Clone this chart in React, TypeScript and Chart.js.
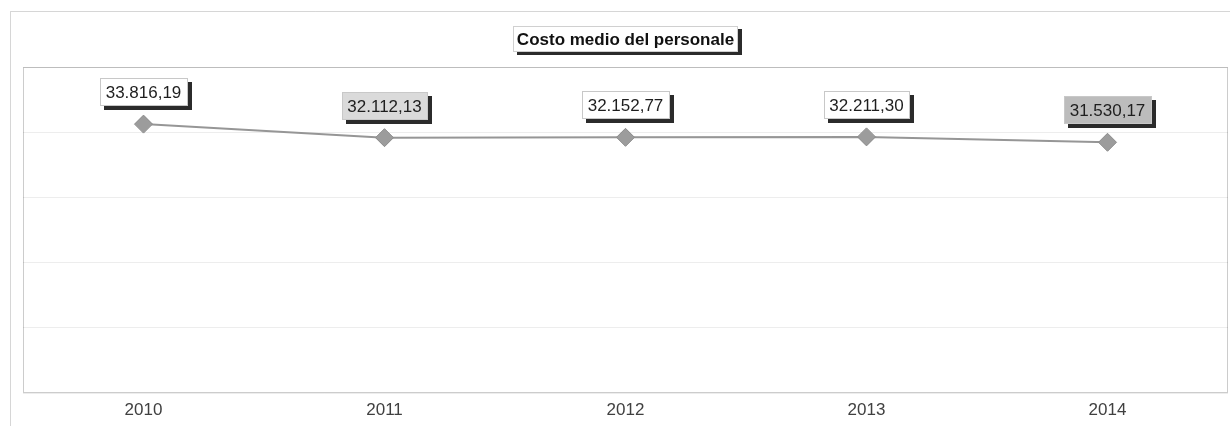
import React, { useEffect, useRef } from "react";
import { Chart, registerables } from "chart.js";

Chart.register(...registerables);

const categories = ["2010", "2011", "2012", "2013", "2014"];
const costoMedio = [33816.19, 32112.13, 32152.77, 32211.3, 31530.17];
const pointLabels = ["33.816,19", "32.112,13", "32.152,77", "32.211,30", "31.530,17"];
const titleText = "Costo medio del personale";
const yMin = 0;
const yMax = 41000;
const yStep = 8200;

const labelBackgrounds = ["#ffffff", "#dadada", "#ffffff", "#ffffff", "#bcbcbc"];
const FONT = '"Liberation Sans", Arial, Helvetica, sans-serif';

const decorPlugin = {
  id: "decor",
  beforeDraw(chart: any) {
    const ctx = chart.ctx as CanvasRenderingContext2D;
    const a = chart.chartArea;
    ctx.save();
    ctx.fillStyle = "#ffffff";
    ctx.fillRect(0, 0, chart.width, chart.height);
    // outer frame
    ctx.strokeStyle = "rgba(0,0,0,0.16)";
    ctx.lineWidth = 1;
    ctx.beginPath();
    ctx.moveTo(10.5, chart.height);
    ctx.lineTo(10.5, 11.5);
    ctx.lineTo(chart.width, 11.5);
    ctx.stroke();
    // plot frame
    ctx.strokeStyle = "rgba(0,0,0,0.2)";
    ctx.strokeRect(a.left + 0.5, a.top + 0.5, a.right - a.left - 1, a.bottom - a.top - 1);
    ctx.restore();
  },
  afterDatasetsDraw(chart: any) {
    const ctx = chart.ctx as CanvasRenderingContext2D;
    const a = chart.chartArea;
    ctx.save();
    // data labels
    ctx.font = `17px ${FONT}`;
    ctx.textAlign = "center";
    ctx.textBaseline = "middle";
    const meta = chart.getDatasetMeta(0);
    meta.data.forEach((pt: any, i: number) => {
      const text = pointLabels[i];
      const tw = ctx.measureText(text).width;
      const w = Math.round(tw + 12);
      const h = 28;
      const x = Math.round(pt.x - w / 2);
      const y = Math.round(pt.y - 18 - h);
      ctx.fillStyle = "#2b2b2b";
      ctx.fillRect(x + 4, y + 4, w, h);
      ctx.fillStyle = labelBackgrounds[i];
      ctx.fillRect(x, y, w, h);
      ctx.strokeStyle = "#c8c8c8";
      ctx.lineWidth = 1;
      ctx.strokeRect(x + 0.5, y + 0.5, w - 1, h - 1);
      ctx.fillStyle = "#1e1e1e";
      ctx.fillText(text, pt.x, y + h / 2 + 1);
    });
    // title box
    ctx.font = `bold 17px ${FONT}`;
    const tw = ctx.measureText(titleText).width;
    const tcx = (a.left + a.right) / 2;
    const w = Math.round(tw + 8);
    const h = 26;
    const x = Math.round(tcx - w / 2);
    const y = 26;
    ctx.fillStyle = "#2b2b2b";
    ctx.fillRect(x + 4, y + 3, w, h);
    ctx.fillStyle = "#ffffff";
    ctx.fillRect(x, y, w, h);
    ctx.strokeStyle = "#d0d0d0";
    ctx.strokeRect(x + 0.5, y + 0.5, w - 1, h - 1);
    ctx.fillStyle = "#111111";
    ctx.fillText(titleText, tcx, y + h / 2 + 1);
    ctx.restore();
  },
};

export default function App() {
  const canvasRef = useRef<HTMLCanvasElement | null>(null);

  useEffect(() => {
    if (!canvasRef.current) return;
    const chart = new Chart(canvasRef.current, {
      type: "line",
      data: {
        labels: categories,
        datasets: [
          {
            label: titleText,
            data: costoMedio,
            borderColor: "#969696",
            borderWidth: 2,
            pointStyle: "rectRot",
            pointRadius: 9,
            pointBackgroundColor: "#9c9c9c",
            pointBorderColor: "#8c8c8c",
            pointBorderWidth: 1,
            tension: 0,
          },
        ],
      },
      options: {
        animation: false,
        responsive: false,
        maintainAspectRatio: false,
        devicePixelRatio: 1,
        layout: { autoPadding: false, padding: { left: 23, top: 67, right: 2, bottom: 0 } },
        plugins: {
          legend: { display: false },
          title: { display: false },
          tooltip: { enabled: false },
        },
        scales: {
          x: {
            offset: true,
            afterFit: (s: any) => {
              s.height = 33;
            },
            grid: { display: false, drawTicks: false },
            border: { display: false },
            ticks: {
              padding: 7,
              color: "#404040",
              font: { family: FONT, size: 17 },
            },
          },
          y: {
            min: yMin,
            max: yMax,
            afterFit: (s: any) => {
              s.width = 0;
            },
            grid: { color: "rgba(0,0,0,0.07)", drawTicks: false },
            border: { display: false },
            ticks: { display: false, stepSize: yStep },
          },
        },
      },
      plugins: [decorPlugin],
    });
    return () => chart.destroy();
  }, []);

  return (
    <div style={{ position: "fixed", left: 0, top: 0, width: 1230, height: 426, background: "#fff" }}>
      <canvas ref={canvasRef} width={1230} height={426} style={{ width: 1230, height: 426, display: "block" }} />
    </div>
  );
}
